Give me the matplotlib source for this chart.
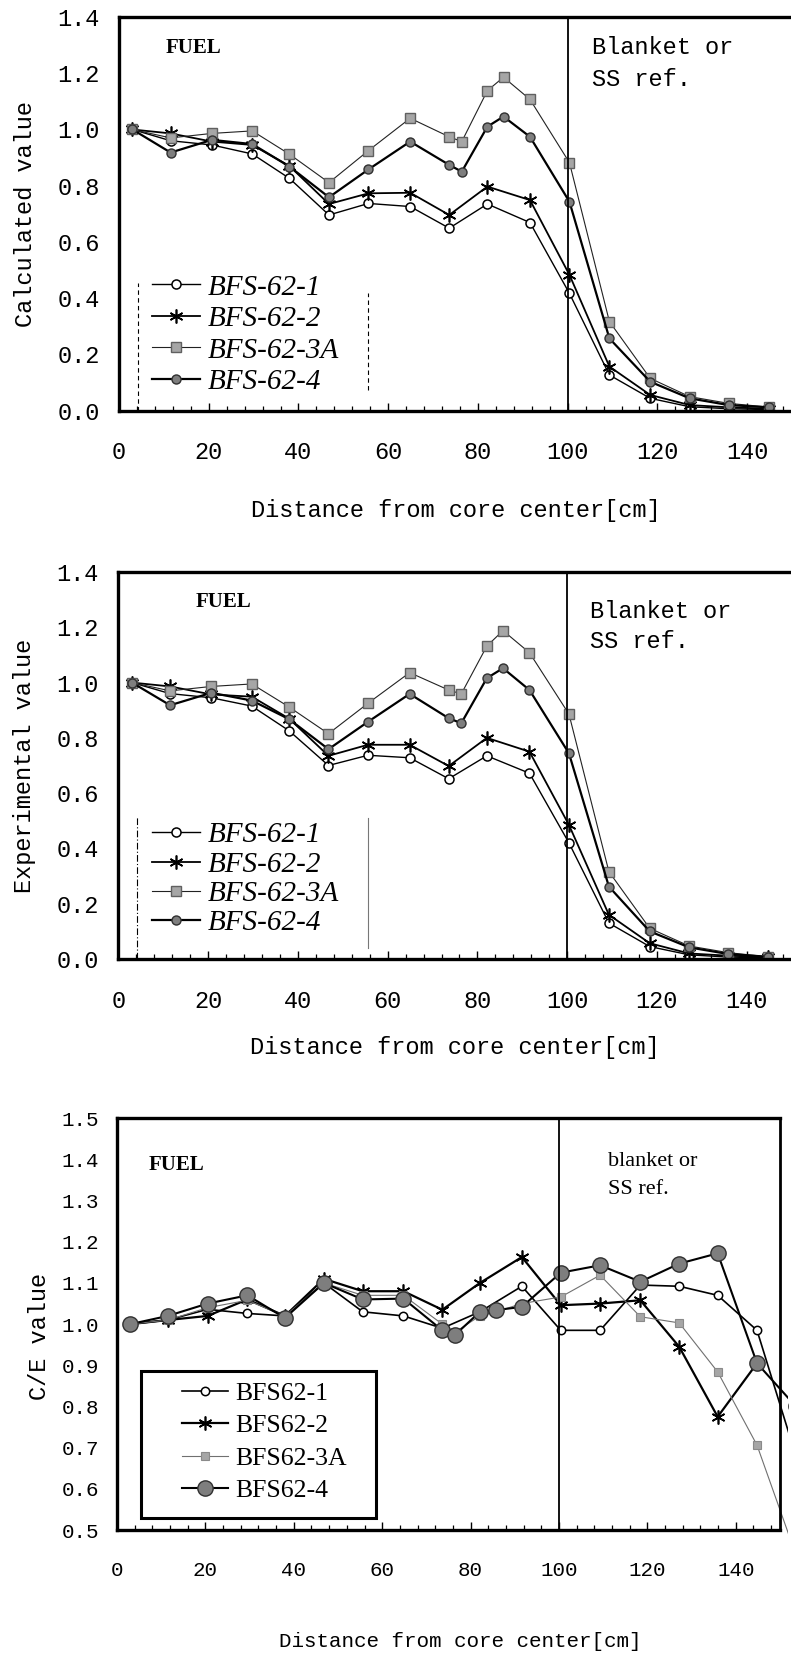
import matplotlib
matplotlib.use('Agg')
import matplotlib.pyplot as plt
from matplotlib.ticker import MultipleLocator, FormatStrFormatter
from matplotlib.patches import Rectangle

plt.rcParams['font.family'] = ['Liberation Mono', 'DejaVu Sans Mono']

# measuring positions [cm]
x_a = [3.0, 11.5, 20.7, 29.7, 38.0, 46.8, 55.6, 64.9, 73.6, 82.1, 91.6,
       100.4, 109.3, 118.4, 127.2, 135.9, 144.8]
x_b = [3.0, 11.5, 20.7, 29.7, 38.0, 46.8, 55.6, 64.9, 73.6, 76.4, 82.1, 85.7,
       91.6, 100.4, 109.3, 118.4, 127.2, 135.9, 144.8]

# calculated distributions
calc_1 = [1.00, 0.96, 0.945, 0.913, 0.826, 0.696, 0.737, 0.726, 0.649, 0.735,
          0.669, 0.417, 0.127, 0.044, 0.014, 0.007, 0.004]
calc_2 = [1.00, 0.986, 0.957, 0.945, 0.87, 0.735, 0.773, 0.775, 0.696, 0.797,
          0.749, 0.483, 0.157, 0.056, 0.020, 0.012, 0.007]
calc_3a = [1.00, 0.97, 0.986, 0.995, 0.912, 0.811, 0.925, 1.040, 0.974, 0.957,
           1.138, 1.186, 1.107, 0.882, 0.317, 0.115, 0.050, 0.026, 0.013]
calc_4 = [1.00, 0.918, 0.963, 0.948, 0.868, 0.759, 0.858, 0.957, 0.874, 0.850,
          1.010, 1.046, 0.974, 0.743, 0.257, 0.103, 0.044, 0.020, 0.012]

# experimental distributions
exp_1 = [1.00, 0.96, 0.945, 0.915, 0.826, 0.70, 0.737, 0.728, 0.652, 0.735,
         0.672, 0.42, 0.13, 0.045, 0.015, 0.007, 0.004]
exp_2 = [1.00, 0.986, 0.957, 0.949, 0.87, 0.735, 0.775, 0.775, 0.698, 0.80,
         0.75, 0.485, 0.16, 0.057, 0.020, 0.012, 0.007]
exp_3a = [1.00, 0.97, 0.986, 0.995, 0.912, 0.815, 0.925, 1.036, 0.973, 0.959,
          1.132, 1.188, 1.108, 0.886, 0.316, 0.111, 0.047, 0.023, 0.008]
exp_4 = [1.00, 0.918, 0.963, 0.935, 0.868, 0.759, 0.858, 0.959, 0.871, 0.853,
         1.016, 1.052, 0.973, 0.744, 0.262, 0.10, 0.042, 0.018, 0.008]

# C/E ratios
xce_1 = [3.0, 11.5, 20.5, 29.5, 38.0, 46.8, 55.6, 64.8, 73.6, 82.1, 91.6,
         100.4, 109.3, 118.4, 127.2, 135.9, 144.8, 153.6]
ce_1 = [1.00, 1.01, 1.036, 1.026, 1.02, 1.10, 1.03, 1.02, 0.99, 1.03, 1.092,
        0.985, 0.985, 1.095, 1.092, 1.070, 0.985, 0.68]
xce_2 = [3.0, 11.5, 20.5, 29.5, 38.0, 46.8, 55.6, 64.8, 73.6, 82.1, 91.6,
         100.4, 109.3, 118.4, 127.2, 135.9, 144.8]
ce_2 = [1.00, 1.01, 1.02, 1.06, 1.02, 1.11, 1.08, 1.08, 1.035, 1.10, 1.163,
        1.046, 1.050, 1.058, 0.945, 0.775, 0.905]
xce_34 = [3.0, 11.5, 20.5, 29.5, 38.0, 46.8, 55.6, 64.8, 73.6, 76.4, 82.1, 85.7,
          91.6, 100.4, 109.3, 118.4, 127.2, 135.9, 144.8, 153.6]
ce_3a = [1.00, 1.01, 1.04, 1.058, 1.02, 1.10, 1.07, 1.07, 1.0, 0.98, 1.02, 1.03,
         1.05, 1.066, 1.119, 1.018, 1.003, 0.884, 0.706, 0.44]
ce_4 = [1.00, 1.02, 1.05, 1.07, 1.015, 1.10, 1.06, 1.062, 0.985, 0.973, 1.03,
        1.034, 1.042, 1.125, 1.143, 1.103, 1.147, 1.172, 0.905, 0.80]

names_top = ['BFS-62-1', 'BFS-62-2', 'BFS-62-3A', 'BFS-62-4']
names_ce = ['BFS62-1', 'BFS62-2', 'BFS62-3A', 'BFS62-4']

x_ticks = [0, 20, 40, 60, 80, 100, 120, 140]
x_label = 'Distance from core center[cm]'

SQ_FACE, SQ_EDGE = '#a6a6a6', '#606060'
C4_FACE, C4_EDGE = '#7e7e7e', '#303030'

fig = plt.figure(figsize=(7.91, 16.53), dpi=100)


def dist_panel(rect, x1, y1, x2, y2, x3, y3, x4, y4, ylabel, ylab_y,
               fuel_xy, blanket_xy, ss_xy, leg_anchor, leg_lines, leg_spacing):
    ax = fig.add_axes(rect)
    ax.plot(x1, y1, '-', color='black', lw=1.0, marker='o', ms=6.5,
            mfc='white', mec='black', mew=1.1, label=names_top[0])
    ax.plot(x2, y2, '-', color='black', lw=1.3, marker=(6, 2, 0), ms=10,
            mec='black', mew=1.2, label=names_top[1])
    ax.plot(x3, y3, '-', color='#222222', lw=0.8, marker='s', ms=6.5,
            mfc=SQ_FACE, mec=SQ_EDGE, mew=1.0, label=names_top[2])
    ax.plot(x4, y4, '-', color='black', lw=1.6, marker='o', ms=6.5,
            mfc=C4_FACE, mec=C4_EDGE, mew=1.0, label=names_top[3])
    ax.axvline(100, color='black', lw=1.3)

    ax.set_xlim(0, 150)
    ax.set_ylim(0, 1.4)
    ax.set_xticks(x_ticks)
    ax.xaxis.set_minor_locator(MultipleLocator(4))
    ax.yaxis.set_major_locator(MultipleLocator(0.2))
    ax.yaxis.set_major_formatter(FormatStrFormatter('%.1f'))
    ax.tick_params(axis='x', which='major', direction='in', length=6,
                   width=1.0, pad=22, labelsize=17)
    ax.tick_params(axis='x', which='minor', direction='in', length=3.5,
                   width=0.9)
    ax.tick_params(axis='y', length=0, pad=14, labelsize=17)
    for s in ['left', 'top', 'bottom']:
        ax.spines[s].set_linewidth(2.4)
    ax.spines['right'].set_visible(False)

    ax.set_xlabel(x_label, fontsize=17)
    ax.xaxis.set_label_coords(0.5, ylab_y)
    ax.set_ylabel(ylabel, fontsize=17)
    ax.yaxis.set_label_coords(-0.122, 0.5)

    ax.text(*fuel_xy, 'FUEL', family='Liberation Serif', fontsize=15,
            weight='bold', va='center', ha='left')
    ax.text(*blanket_xy, 'Blanket or', fontsize=17, va='center', ha='left')
    ax.text(*ss_xy, 'SS ref.', fontsize=17, va='center', ha='left')

    leg = ax.legend(loc='upper left', bbox_to_anchor=leg_anchor,
                    frameon=False, borderpad=0, borderaxespad=0,
                    handlelength=1.64, handletextpad=0.27,
                    labelspacing=leg_spacing,
                    prop={'family': 'Liberation Serif', 'style': 'italic',
                          'size': 21})
    leg.set_zorder(5)
    # remains of the legend frame
    for xv, y0, y1_, ls, col in leg_lines:
        ax.axvline(xv, ymin=y0, ymax=y1_, color=col, lw=0.8, ls=ls)
    return ax


dist_panel([119 / 791, 1 - 410.7 / 1653, 673 / 791, 393.7 / 1653],
           x_a, calc_1, x_a, calc_2, x_b, calc_3a, x_b, calc_4,
           'Calculated value', -0.224,
           (10.5, 1.29), (105.4, 1.29), (105.4, 1.176),
           (0.049, 0.347),
           [(4.2, 0.0, 0.324, (0, (4, 3)), 'black'),
            (55.5, 0.053, 0.299, (0, (4, 3)), 'black')],
           0.175)

dist_panel([118.5 / 791, 1 - 959 / 1653, 673 / 791, 387 / 1653],
           x_a, exp_1, x_a, exp_2, x_b, exp_3a, x_b, exp_4,
           'Experimental value', -0.199,
           (17.2, 1.292), (105.2, 1.257), (105.2, 1.148),
           (0.05, 0.354),
           [(4.2, 0.0, 0.367, (0, (6, 2, 1, 2)), 'black'),
            (55.6, 0.028, 0.364, '-', '#777777')],
           0.1)

# C/E panel
ax = fig.add_axes([117 / 791, 1 - 1530 / 1653, 663 / 791, 411.7 / 1653])
lines = []
lines += ax.plot(xce_1, ce_1, '-', color='black', lw=1.2, marker='o', ms=6,
                 mfc='white', mec='black', mew=1.1, label=names_ce[0])
lines += ax.plot(xce_2, ce_2, '-', color='black', lw=1.6, marker=(6, 2, 0),
                 ms=10, mec='black', mew=1.2, label=names_ce[1])
lines += ax.plot(xce_34, ce_3a, '-', color='#707070', lw=0.8, marker='s',
                 ms=5.5, mfc=SQ_FACE, mec='#8a8a8a', mew=0.8,
                 label=names_ce[2])
lines += ax.plot(xce_34, ce_4, '-', color='black', lw=1.5, marker='o', ms=11,
                 mfc=C4_FACE, mec=C4_EDGE, mew=1.0, label=names_ce[3])
for ln in lines:
    ln.set_clip_path(Rectangle((0, -0.06), 1.012, 1.06,
                               transform=ax.transAxes))
ax.axvline(100, color='black', lw=1.3)

ax.set_xlim(0, 150)
ax.set_ylim(0.5, 1.5)
ax.set_xticks(x_ticks)
ax.xaxis.set_minor_locator(MultipleLocator(4))
ax.yaxis.set_major_locator(MultipleLocator(0.1))
ax.yaxis.set_major_formatter(FormatStrFormatter('%.1f'))
ax.tick_params(axis='x', which='major', direction='in', length=6,
               width=1.0, pad=22, labelsize=15)
ax.tick_params(axis='x', which='minor', direction='in', length=3.5, width=0.9)
ax.tick_params(axis='y', length=0, pad=13, labelsize=15)
for s in ['left', 'top', 'bottom']:
    ax.spines[s].set_linewidth(2.4)
ax.spines['right'].set_linewidth(2.0)

ax.set_xlabel(x_label, fontsize=15)
ax.xaxis.set_label_coords(0.517, -0.248)
ax.set_ylabel('C/E value', fontsize=17)
ax.yaxis.set_label_coords(-0.1, 0.47)

ax.text(7.25, 1.387, 'FUEL', family='Liberation Serif', fontsize=15,
        weight='bold', va='center', ha='left')
ax.text(111, 1.395, 'blanket or', family='Liberation Serif', fontsize=16,
        va='center', ha='left')
ax.text(111, 1.326, 'SS ref.', family='Liberation Serif', fontsize=16,
        va='center', ha='left')

ax.add_patch(Rectangle((0.036, 0.029), 0.354, 0.358, transform=ax.transAxes,
                       facecolor='white', edgecolor='black', lw=2.2,
                       zorder=4))
leg = ax.legend(loc='upper left', bbox_to_anchor=(0.098, 0.36),
                frameon=False, borderpad=0, borderaxespad=0,
                handlelength=1.8, handletextpad=0.27, labelspacing=0.37,
                prop={'family': 'Liberation Serif', 'size': 18.5})
leg.set_zorder(5)

fig.savefig('out.png', dpi=100)
